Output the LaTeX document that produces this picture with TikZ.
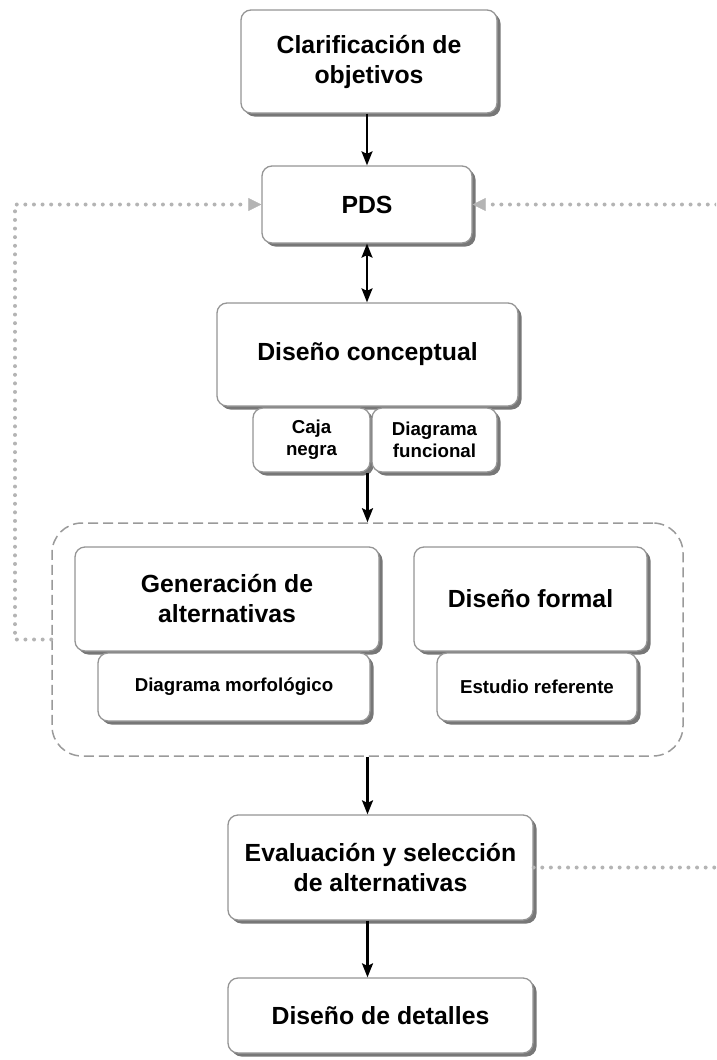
\documentclass[tikz,border=0pt]{standalone}
\usepackage{fontspec}
\setmainfont{Liberation Sans}
\usetikzlibrary{arrows.meta,shadows}
\definecolor{boxline}{HTML}{959595}
\definecolor{boxshade}{HTML}{777777}
\definecolor{dotgray}{HTML}{B4B4B4}
\definecolor{dashgray}{HTML}{9A9A9A}
\tikzset{
  stage/.style={draw=boxline, line width=1.3pt, rounded corners=10pt, fill=white,
    inner sep=0pt, align=center,
    font=\bfseries\fontsize{24.8}{30}\selectfont,
    general shadow={fill=boxshade, shadow xshift=3.5pt, shadow yshift=-3.5pt}},
  tool/.style={stage, font=\bfseries\fontsize{18.7}{22}\selectfont},
  group/.style={draw=dashgray, line width=1.5pt, dash pattern=on 10pt off 5pt,
    rounded corners=30pt, inner sep=0pt},
  flow/.style={line width=2.2pt, -{Stealth[length=14pt,width=11pt,inset=2.5pt]}},
  twoway/.style={line width=2.2pt,
    {Stealth[length=14pt,width=11pt,inset=2.5pt]}-{Stealth[length=14pt,width=11pt,inset=2.5pt]}},
  feedback/.style={draw=dotgray, line width=4pt, line cap=round,
    dash pattern=on 0pt off 8.6pt,
    -{Triangle[length=13pt,width=13pt,line width=0.5pt,fill=dotgray,color=dotgray]}}
}
\begin{document}
\begin{tikzpicture}[x=1pt,y=-1pt]
\useasboundingbox (0,0) rectangle (716,1060);
\clip (0,0) rectangle (716,1060);

% main stages
\node[stage, minimum width=256pt, minimum height=103pt] (clar) at (369,61.5)
  {Clarificación de\\objetivos};
\node[stage, minimum width=210pt, minimum height=77pt] (pds) at (367,204.5) {PDS};
\node[stage, minimum width=301pt, minimum height=103pt] (dc) at (367.5,354.5)
  {Diseño conceptual};
\node[tool, minimum width=117pt, minimum height=64pt] (caja) at (311.5,440)
  {Caja\\negra};
\node[tool, minimum width=125pt, minimum height=64pt] (func) at (434.5,440)
  {Diagrama\\funcional};

% group of parallel activities
\node[group, minimum width=631pt, minimum height=233pt] (grp) at (367.5,639.5) {};
\node[stage, minimum width=304pt, minimum height=104pt] (gen) at (227,599)
  {Generación de\\alternativas};
\node[tool, minimum width=272pt, minimum height=68pt] (morf) at (234,687)
  {Diagrama morfológico};
\node[stage, minimum width=233pt, minimum height=104pt] (form) at (530.5,599)
  {Diseño formal};
\node[tool, minimum width=200pt, minimum height=68pt] (estu) at (537,687)
  {Estudio referente};

\node[stage, minimum width=305pt, minimum height=105pt] (eval) at (380.5,867.5)
  {Evaluación y selección\\de alternativas};
\node[stage, minimum width=305pt, minimum height=75pt] (det) at (380.5,1015.5)
  {Diseño de detalles};

% main flow
\draw[flow] (pds.north |- clar.south) -- (pds.north);
\draw[twoway] (pds.south) -- (pds.south |- dc.north);
\draw[flow] (grp.north |- caja.south) -- (grp.north);
\draw[flow] (grp.south) -- (grp.south |- eval.north);
\draw[flow] (grp.south |- eval.south) -- (grp.south |- det.north);

% feedback loops
\coordinate (lcorner) at (15,639.5);
\coordinate (rcorner) at (745,867.5);
\draw[feedback] (grp.west) -- (lcorner) |- (pds.west);
\draw[feedback] (eval.east) -- (rcorner) |- (pds.east);
\end{tikzpicture}
\end{document}
